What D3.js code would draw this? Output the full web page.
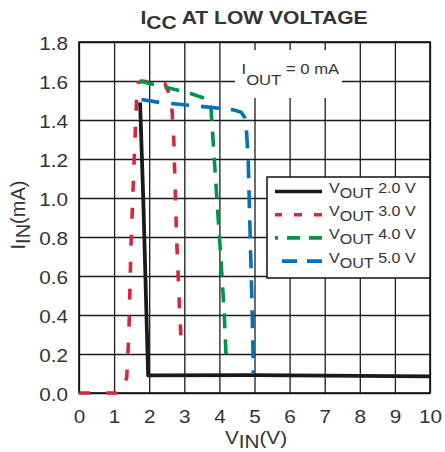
<!DOCTYPE html>
<html>
<head>
<meta charset="utf-8">
<script src="https://cdn.jsdelivr.net/npm/d3@7/dist/d3.min.js"></script>
<style>
  html, body { margin: 0; padding: 0; background: #fff; }
  svg { display: block; font-family: "Liberation Sans", Arial, sans-serif; }
</style>
</head>
<body>
<svg id="chart" width="445" height="452"></svg>
<script>
// ---------- data ----------
const xTicks = [0, 1, 2, 3, 4, 5, 6, 7, 8, 9, 10];
const yTicks = [0.0, 0.2, 0.4, 0.6, 0.8, 1.0, 1.2, 1.4, 1.6, 1.8];
const seriesNames = ["2.0 V", "3.0 V", "4.0 V", "5.0 V"];
const vin20 = [1.74, 1.83, 1.97, 5.0, 10.0];
const iin20 = [1.49, 1.00, 0.09, 0.092, 0.085];
const vin30 = [0.0, 1.05, 1.25, 1.36, 1.42, 1.48, 1.57, 1.64, 1.69, 1.80, 2.45, 2.58, 2.65, 2.70, 2.78, 2.86, 2.92];
const iin30 = [0.0, 0.0, 0.02, 0.08, 0.30, 0.75, 1.19, 1.50, 1.59, 1.60, 1.585, 1.53, 1.45, 1.30, 0.80, 0.45, 0.23];
const vin40 = [1.72, 2.5, 3.2, 3.68, 3.76, 3.80, 3.92, 4.07, 4.14, 4.20];
const iin40 = [1.60, 1.567, 1.535, 1.505, 1.46, 1.35, 1.02, 0.61, 0.40, 0.15];
const vin50 = [1.78, 2.3, 3.2, 4.0, 4.4, 4.62, 4.73, 4.77, 4.82, 4.87, 4.93, 4.97];
const iin50 = [1.505, 1.49, 1.475, 1.46, 1.452, 1.44, 1.41, 1.35, 1.20, 0.85, 0.45, 0.10];
const titleMain = "I", titleSub = "CC", titleRest = " AT LOW VOLTAGE";
const noteMain = "I", noteSub = "OUT", noteRest = " = 0 mA";

// ---------- layout / style ----------
const SX = 1.15; // horizontal text stretch seen in the reference
const textCol = "#333";
const gridCol = "#1c1c1c";
const colors = ["#1a1a1a", "#d7263d", "#00944a", "#0072bc"];
const dashes = [null, "11,16", "15,11", "18,12"];
const legendDashes = [null, "8,12", "13,9", "15,10"];

const svg = d3.select("#chart");
const x = d3.scaleLinear().domain([0, 10]).range([79, 430]);
const y = d3.scaleLinear().domain([0, 1.8]).range([393, 42]);

// grid + tick labels via axes
const gy = svg.append("g").attr("transform", `translate(${x(0)},0)`)
  .call(d3.axisLeft(y).tickValues(yTicks).tickFormat(d3.format(".1f"))
    .tickSize(-(x(10) - x(0))).tickPadding(11));
gy.select(".domain").remove();
gy.selectAll("line").attr("stroke", gridCol).attr("stroke-width", 1.3);
gy.selectAll("text")
  .attr("fill", textCol).attr("font-size", 18)
  .attr("font-family", '"Liberation Sans", Arial, sans-serif')
  .attr("x", null).attr("dy", null)
  .attr("dominant-baseline", null)
  .attr("transform", `translate(-11,7.5) scale(${SX},1)`);

const gx = svg.append("g").attr("transform", `translate(0,${y(0)})`)
  .call(d3.axisBottom(x).tickValues(xTicks).tickFormat(d3.format("d"))
    .tickSize(-(y(0) - y(1.8))));
gx.select(".domain").remove();
gx.selectAll("line").attr("stroke", gridCol).attr("stroke-width", 1.3);
gx.selectAll("text")
  .attr("fill", textCol).attr("font-size", 18)
  .attr("font-family", '"Liberation Sans", Arial, sans-serif')
  .attr("y", null).attr("dy", null)
  .attr("transform", `translate(0,30) scale(${SX},1)`);

// plot frame
svg.append("rect")
  .attr("x", x(0)).attr("y", y(1.8))
  .attr("width", x(10) - x(0)).attr("height", y(0) - y(1.8))
  .attr("fill", "none").attr("stroke", "#111").attr("stroke-width", 1.6);

// helper for text with subscript
function subText(parent, tx, ty, parts, opts) {
  const t = parent.append("text")
    .attr("transform", `translate(${tx},${ty})` + (opts.rotate ? ` rotate(${opts.rotate})` : "") + ` scale(${opts.sx || SX},1)`)
    .attr("text-anchor", opts.anchor || "start")
    .attr("font-size", opts.size)
    .attr("font-weight", opts.weight || "normal")
    .attr("fill", textCol);
  t.append("tspan").text(parts[0]);
  t.append("tspan").attr("dy", opts.sub).text(parts[1]);
  t.append("tspan").attr("dy", -opts.sub).text(parts[2]);
  return t;
}

// title
subText(svg, 254, 24, [titleMain, titleSub, titleRest], { size: 18, weight: "bold", sub: 5, anchor: "middle", sx: 1.17 });

// axis titles
subText(svg, 256, 443.5, ["V", "IN", "(V)"], { size: 18, sub: 4.5, anchor: "middle" });
subText(svg, 25, 215, ["I", "IN", "(mA)"], { size: 20, sub: 5, anchor: "middle", rotate: -90, sx: 1 });

// annotation with white background
svg.append("rect").attr("x", 235).attr("y", 50).attr("width", 107).attr("height", 48).attr("fill", "#fff");
subText(svg, 241.5, 73.5, [noteMain, noteSub, noteRest], { size: 14.5, sub: 11.5 });

// curves
const series = [
  { v: vin20, i: iin20 },
  { v: vin30, i: iin30 },
  { v: vin40, i: iin40 },
  { v: vin50, i: iin50 }
];
const line = d3.line().x(d => x(d[0])).y(d => y(d[1]));
series.forEach((s, k) => {
  const pts = s.v.map((v, j) => [v, s.i[j]]);
  svg.append("path")
    .attr("d", line(pts))
    .attr("fill", "none")
    .attr("stroke", colors[k])
    .attr("stroke-width", k === 0 ? 3.8 : 3.6)
    .attr("stroke-linejoin", "round")
    .attr("stroke-dasharray", dashes[k]);
});

// legend
const lg = svg.append("g");
lg.append("rect").attr("x", 267).attr("y", 177).attr("width", 163).attr("height", 101)
  .attr("fill", "#fff").attr("stroke", "#111").attr("stroke-width", 1.5);
seriesNames.forEach((name, k) => {
  const by = 193 + k * 23.2;
  lg.append("line")
    .attr("x1", 322).attr("x2", 275).attr("y1", by - 1.5).attr("y2", by - 1.5)
    .attr("stroke", colors[k]).attr("stroke-width", 3.6)
    .attr("stroke-dasharray", legendDashes[k]);
  subText(lg, 329, by, ["V", "OUT", " " + name], { size: 14, sub: 5 });
});
</script>
</body>
</html>
